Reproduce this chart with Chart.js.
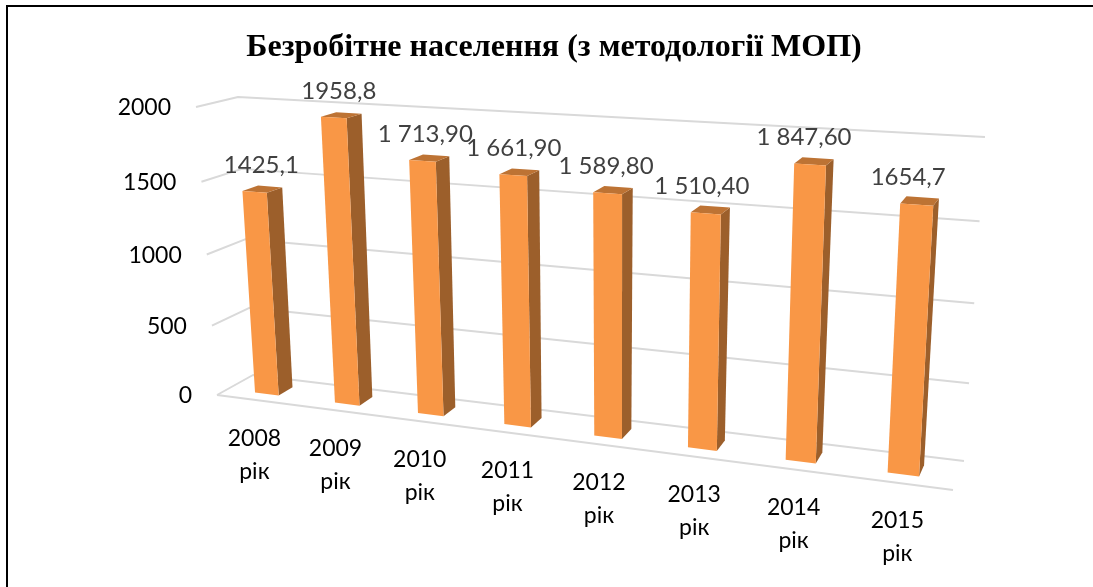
<!DOCTYPE html>
<html><head><meta charset="utf-8">
<style>
html,body{margin:0;padding:0;background:#fff;overflow:hidden}
#wrap{position:relative;width:1093px;height:587px;overflow:hidden}
canvas{display:block}
#frame{position:absolute;left:6px;top:5px;right:-20px;bottom:-20px;border:2px solid #000;pointer-events:none}
</style>
<script src="https://cdn.jsdelivr.net/npm/chart.js@4"></script>
</head><body>
<div id="wrap"><canvas id="c" width="1093" height="587"></canvas><div id="frame"></div></div>
<script>
const chartTitle = 'Безробітне населення (з методології МОП)';
const categories = [['2008','рік'],['2009','рік'],['2010','рік'],['2011','рік'],['2012','рік'],['2013','рік'],['2014','рік'],['2015','рік']];
const values = [1425.1,1958.8,1713.9,1661.9,1589.8,1510.4,1847.6,1654.7];
const valueLabels = ['1425,1','1958,8','1 713,90','1 661,90','1 589,80','1 510,40','1 847,60','1654,7'];

// perspective of the 3-D box: plot-area corners [u0v0, u1v0, u1v1, u0v1]
const FRONT = [[217,395],[953,490],[972,153],[196,107]];
const BACK  = [[253,375],[964,461],[985,137],[238,97]];
const BAR_W0 = 0.3, BAR_W1 = 0.7;
const FACE='#F99746', SIDE='#9C5F2B', TOP='#BD7334', GRID='#D9D9D9';

function homography(q){
  const [[x0,y0],[x1,y1],[x2,y2],[x3,y3]] = q;
  const dx1=x1-x2,dx2=x3-x2,sx=x0-x1+x2-x3,dy1=y1-y2,dy2=y3-y2,sy=y0-y1+y2-y3;
  const d=dx1*dy2-dx2*dy1, g=(sx*dy2-dx2*sy)/d, h=(dx1*sy-sx*dy1)/d;
  const a=x1-x0+g*x1,b=x3-x0+h*x3,e=y1-y0+g*y1,f=y3-y0+h*y3;
  return (u,v)=>{const w=g*u+h*v+1;return [(a*u+b*v+x0)/w,(e*u+f*v+y0)/w];};
}
const HF=homography(FRONT), HB=homography(BACK);
function project(u,v,w){
  const p=HF(u,v),q=HB(u,v);
  return [p[0]+(q[0]-p[0])*w,p[1]+(q[1]-p[1])*w];
}
function poly(ctx,pts,color){
  ctx.beginPath();pts.forEach((p,i)=>i?ctx.lineTo(p[0],p[1]):ctx.moveTo(p[0],p[1]));
  ctx.closePath();ctx.fillStyle=color;ctx.fill();
}
const perspective3d={
  id:'perspective3d',
  beforeDatasetsDraw(chart){
    const ctx=chart.ctx,ys=chart.scales.y,xs=chart.scales.x,a=chart.chartArea;
    const V=py=>(a.bottom-py)/(a.bottom-a.top);
    ctx.save();
    ctx.strokeStyle=GRID;ctx.lineWidth=2;ctx.lineJoin='round';
    ys.ticks.forEach(t=>{
      const v=V(ys.getPixelForValue(t.value));
      const f=project(0,v,0),b=project(0,v,1),r=project(1,v,1);
      ctx.beginPath();ctx.moveTo(f[0],f[1]);ctx.lineTo(b[0],b[1]);ctx.lineTo(r[0],r[1]);ctx.stroke();
      ctx.fillStyle='#000';ctx.font='23px Lato';ctx.textAlign='right';ctx.textBaseline='middle';
      ctx.fillText(String(t.value),f[0]-25,f[1]+1);
    });
    const l=project(0,0,0),r=project(1,0,0);
    ctx.beginPath();ctx.moveTo(l[0],l[1]);ctx.lineTo(r[0],r[1]);ctx.stroke();
    ctx.fillStyle='#000';ctx.font='23px Lato';ctx.textAlign='center';ctx.textBaseline='middle';
    categories.forEach((lines,i)=>{
      const u=(xs.getPixelForTick(i)-a.left)/(a.right-a.left);
      const p=project(u,0,0);
      lines.forEach((s,k)=>ctx.fillText(s,p[0]-2,p[1]+38+k*33));
    });
    ctx.restore();
  },
  beforeDatasetDraw(chart,args){
    const ctx=chart.ctx,a=chart.chartArea;
    const U=px=>(px-a.left)/(a.right-a.left), V=py=>(a.bottom-py)/(a.bottom-a.top);
    ctx.save();
    args.meta.data.forEach(el=>{
      const u0=U(el.x-el.width/2),u1=U(el.x+el.width/2),v0=V(el.base),v1=V(el.y);
      const P=(u,v,w)=>project(u,v,w);
      poly(ctx,[P(u1,v0,BAR_W0),P(u1,v0,BAR_W1),P(u1,v1,BAR_W1),P(u1,v1,BAR_W0)],SIDE);
      poly(ctx,[P(u0,v1,BAR_W0),P(u1,v1,BAR_W0),P(u1,v1,BAR_W1),P(u0,v1,BAR_W1)],TOP);
      poly(ctx,[P(u0,v0,BAR_W0),P(u1,v0,BAR_W0),P(u1,v1,BAR_W0),P(u0,v1,BAR_W0)],FACE);
    });
    ctx.restore();
    return false;
  },
  afterDatasetsDraw(chart){
    const ctx=chart.ctx,a=chart.chartArea,meta=chart.getDatasetMeta(0);
    ctx.save();
    ctx.fillStyle='#404040';ctx.font='24px Lato';ctx.textAlign='center';ctx.textBaseline='middle';
    meta.data.forEach((el,i)=>{
      const u=(el.x-a.left)/(a.right-a.left),v=(a.bottom-el.y)/(a.bottom-a.top);
      const p=project(u,v,0.5);
      ctx.fillText(valueLabels[i],p[0]-1-i*1.5,p[1]-24);
    });
    ctx.restore();
  }
};
new Chart(document.getElementById('c'),{
  type:'bar',
  data:{labels:categories,datasets:[{data:values,backgroundColor:FACE,barPercentage:0.3,categoryPercentage:1}]},
  plugins:[perspective3d],
  options:{
    responsive:false,animation:false,devicePixelRatio:1,
    layout:{padding:{left:196,right:189,top:0,bottom:191}},
    plugins:{
      legend:{display:false},tooltip:{enabled:false},
      title:{display:true,text:chartTitle,fullSize:false,color:'#000',
        font:{family:'"Liberation Serif"',size:32,weight:'bold',lineHeight:1.2},
        padding:{top:29,bottom:41}}
    },
    scales:{
      x:{grid:{display:false},border:{display:false},ticks:{display:false}},
      y:{min:0,max:2000,grid:{display:false},border:{display:false},ticks:{display:false,stepSize:500}}
    }
  }
});
</script>
</body></html>
